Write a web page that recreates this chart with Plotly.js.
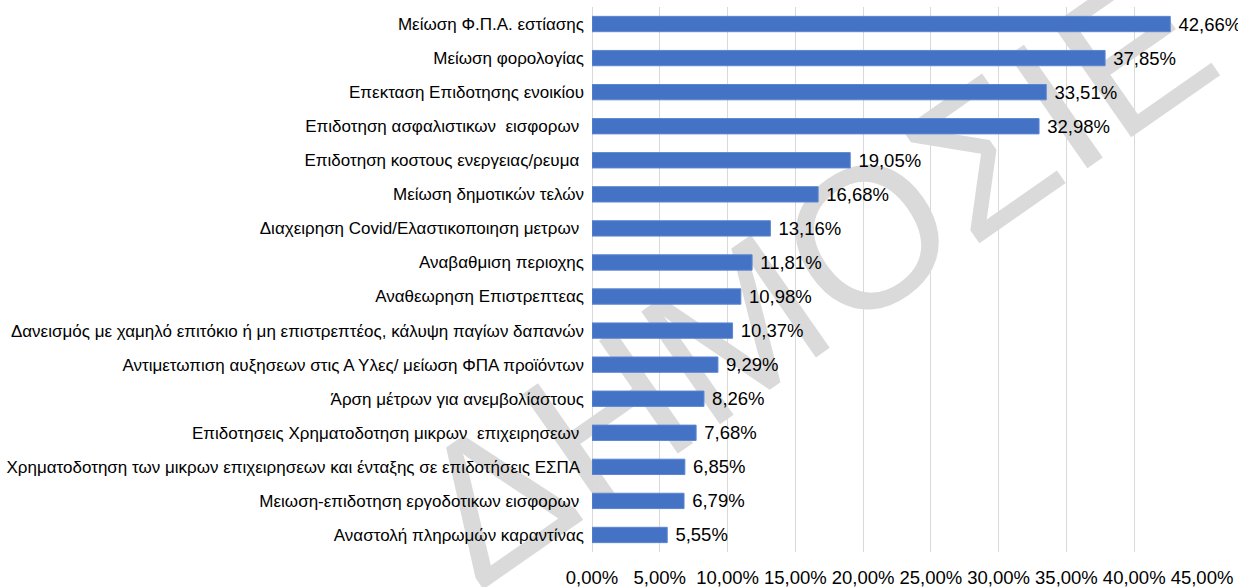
<!DOCTYPE html>
<html>
<head>
<meta charset="utf-8">
<script src="https://cdn.plot.ly/plotly-3.0.1.min.js"></script>
<style>html,body{margin:0;padding:0;background:#fff;}#chart{width:1238px;height:587px;}</style>
</head>
<body>
<div id="chart"></div>
<script>
const categories = [
  "Μείωση Φ.Π.Α. εστίασης",
  "Μείωση φορολογίας",
  "Επεκταση Επιδοτησης ενοικίου",
  "Επιδοτηση ασφαλιστικων  εισφορων ",
  "Επιδοτηση κοστους ενεργειας/ρευμα ",
  "Μείωση δημοτικών τελών",
  "Διαχειρηση Covid/Ελαστικοποιηση μετρων ",
  "Αναβαθμιση περιοχης",
  "Αναθεωρηση Επιστρεπτεας",
  "Δανεισμός με χαμηλό επιτόκιο ή μη επιστρεπτέος, κάλυψη παγίων δαπανών",
  "Αντιμετωπιση αυξησεων στις Α Υλες/ μείωση ΦΠΑ προϊόντων",
  "Άρση μέτρων για ανεμβολίαστους",
  "Επιδοτησεις Χρηματοδοτηση μικρων  επιχειρησεων ",
  "Χρηματοδοτηση των μικρων επιχειρησεων και ένταξης σε επιδοτήσεις ΕΣΠΑ ",
  "Μειωση-επιδοτηση εργοδοτικων εισφορων ",
  "Αναστολή πληρωμών καραντίνας"
];
const values = [42.66, 37.85, 33.51, 32.98, 19.05, 16.68, 13.16, 11.81, 10.98, 10.37, 9.29, 8.26, 7.68, 6.85, 6.79, 5.55];
const tickValues = [0, 5, 10, 15, 20, 25, 30, 35, 40, 45];
const tickLabels = ["0,00%", "5,00%", "10,00%", "15,00%", "20,00%", "25,00%", "30,00%", "35,00%", "40,00%", "45,00%"];
const watermarkText = "ΔΗΜΟΣΙΕΥΜΑ";

const FONT = "Liberation Sans, Arial, sans-serif";

const trace = {
  type: "bar",
  orientation: "h",
  x: values,
  y: categories,
  width: 0.45,
  marker: {color: "#4472C4", line: {color: "#5B87D2", width: 1}},
  texttemplate: "\u00a0%{x:.2f}%",
  textposition: "outside",
  constraintext: "none",
  textfont: {family: FONT, size: 18.5, color: "#000000"},
  cliponaxis: false,
  hoverinfo: "skip"
};

const layout = {
  width: 1238,
  height: 587,
  separators: ",.",
  margin: {l: 592, r: 36, t: 7, b: 35, pad: 0},
  paper_bgcolor: "#ffffff",
  plot_bgcolor: "#ffffff",
  showlegend: false,
  font: {family: FONT, color: "#000000"},
  xaxis: {
    range: [0, 45],
    tickmode: "array",
    tickvals: tickValues,
    ticktext: tickLabels,
    showgrid: true,
    gridcolor: "#d9d9d9",
    gridwidth: 1,
    zeroline: true,
    zerolinecolor: "#d9d9d9",
    zerolinewidth: 1,
    showline: false,
    ticks: "",
    ticklabelstandoff: 12,
    tickfont: {family: FONT, size: 18.5, color: "#000000"},
    fixedrange: true
  },
  yaxis: {
    type: "category",
    autorange: "reversed",
    showgrid: false,
    zeroline: false,
    showline: false,
    ticks: "",
    ticklabelstandoff: 7,
    tickfont: {family: FONT, size: 17, color: "#000000"},
    fixedrange: true
  },
  shapes: [{
    type: "line",
    xref: "paper", yref: "paper",
    x0: 0.098, y0: 0.345, x1: 1.174, y1: 1.185,
    line: {color: "rgba(0,0,0,0)", width: 0},
    layer: "below",
    label: {
      text: watermarkText,
      textangle: "auto",
      textposition: "middle",
      yanchor: "middle",
      font: {family: FONT, size: 200, color: "#dadada"}
    }
  }]
};

Plotly.newPlot("chart", [trace], layout, {displayModeBar: false, staticPlot: true});
</script>
</body>
</html>
